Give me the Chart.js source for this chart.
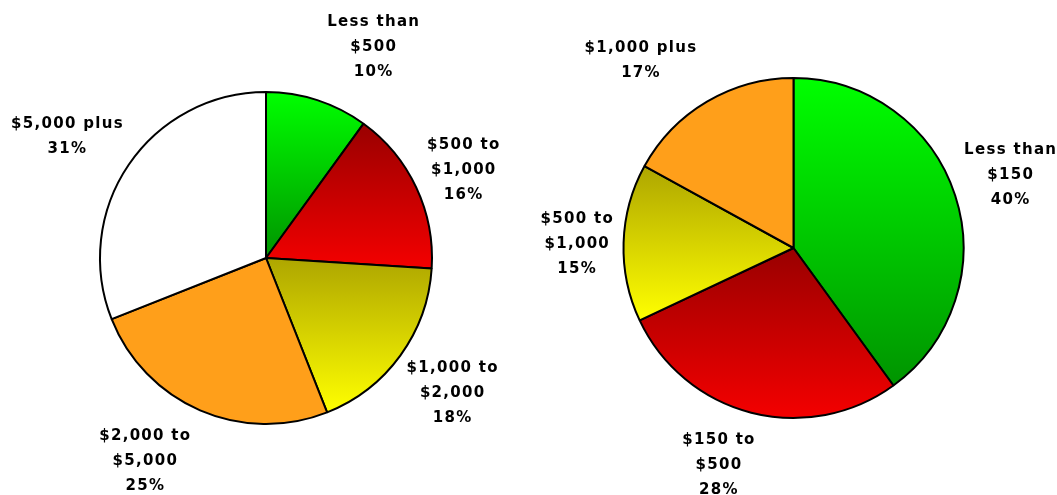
<!DOCTYPE html>
<html>
<head>
<meta charset="utf-8">
<script src="https://cdn.jsdelivr.net/npm/chart.js@4/dist/chart.umd.min.js"></script>
<style>
  html, body { margin: 0; padding: 0; background: #fff; }
  #wrap { position: relative; width: 1057px; height: 495px; }
  .box { position: absolute; top: 0; height: 495px; }
  #boxLeft { left: 0; width: 530px; }
  #boxRight { left: 530px; width: 527px; }
</style>
</head>
<body>
<div id="wrap">
  <div class="box" id="boxLeft"><canvas id="pieLeft"></canvas></div>
  <div class="box" id="boxRight"><canvas id="pieRight"></canvas></div>
</div>
<script>
// Datos del gráfico izquierdo
const categoriasIzq = [
  ['Less than', '$500'],
  ['$500 to', '$1,000'],
  ['$1,000 to', '$2,000'],
  ['$2,000 to', '$5,000'],
  ['$5,000 plus']
];
const valoresIzq = [10, 16, 18, 25, 31];

// Datos del gráfico derecho
const categoriasDer = [
  ['Less than', '$150'],
  ['$150 to', '$500'],
  ['$500 to', '$1,000'],
  ['$1,000 plus']
];
const valoresDer = [40, 28, 15, 17];

// Colores: [arriba, abajo] para degradados verticales
const colores = {
  verde: ['#00ff00', '#009400'],
  rojo: ['#990000', '#f40000'],
  amarillo: ['#aea600', '#ffff00'],
  naranja: ['#ff9f1a', '#ff9f1a'],
  blanco: ['#ffffff', '#ffffff']
};
const coloresIzq = [colores.verde, colores.rojo, colores.amarillo, colores.naranja, colores.blanco];
const coloresDer = [colores.verde, colores.rojo, colores.amarillo, colores.naranja];

// Ajustes finos de las etiquetas (dx, dy)
const ajusteIzq = [[36, 8], [-11, 10], [0, 0], [-30, -8], [-9, 8]];
const ajusteDer = [[-6, -1], [-17, -10], [17, 3], [-34, 14]];

Chart.defaults.font.family = '"DejaVu Sans", sans-serif';

function extensionVertical(arc) {
  const { x, y, startAngle, endAngle, outerRadius } = arc.getProps(['x', 'y', 'startAngle', 'endAngle', 'outerRadius']);
  let ys = [y, y + outerRadius * Math.sin(startAngle), y + outerRadius * Math.sin(endAngle)];
  const TAU = Math.PI * 2;
  [-Math.PI / 2, Math.PI / 2].forEach(a => {
    for (let k = -2; k <= 2; k++) {
      const t = a + k * TAU;
      if (t > startAngle && t < endAngle) ys.push(y + outerRadius * Math.sin(t));
    }
  });
  return [Math.min(...ys), Math.max(...ys)];
}

const degradadoPlugin = {
  id: 'degradado',
  beforeDatasetsDraw(chart) {
    const ctx = chart.ctx;
    const meta = chart.getDatasetMeta(0);
    const pares = chart.options.plugins.degradado.colores;
    meta.data.forEach((arc, i) => {
      const [y0, y1] = extensionVertical(arc);
      const g = ctx.createLinearGradient(0, y0, 0, y1 > y0 ? y1 : y0 + 1);
      g.addColorStop(0, pares[i][0]);
      g.addColorStop(1, pares[i][1]);
      arc.options.backgroundColor = g;
    });
  }
};

const etiquetasPlugin = {
  id: 'etiquetas',
  afterDatasetsDraw(chart) {
    const ctx = chart.ctx;
    const meta = chart.getDatasetMeta(0);
    const opts = chart.options.plugins.etiquetas;
    const datos = chart.data.datasets[0].data;
    const espaciado = 1.3;
    const alto = 25;
    ctx.save();
    ctx.font = 'bold 15px "DejaVu Sans", sans-serif';
    ctx.fillStyle = '#000';
    ctx.textAlign = 'center';
    ctx.textBaseline = 'middle';
    if ('letterSpacing' in ctx) ctx.letterSpacing = espaciado + 'px';
    meta.data.forEach((arc, i) => {
      const { x, y, startAngle, endAngle, outerRadius } = arc.getProps(['x', 'y', 'startAngle', 'endAngle', 'outerRadius']);
      const medio = (startAngle + endAngle) / 2;
      const d = outerRadius + opts.distancia;
      const cx = x + d * Math.cos(medio) + opts.ajuste[i][0];
      const cy = y + d * Math.sin(medio) + opts.ajuste[i][1];
      const lineas = [].concat(chart.data.labels[i], datos[i] + '%');
      const y0 = cy - (lineas.length - 1) * alto / 2;
      lineas.forEach((t, j) => {
        ctx.fillText(t, cx + espaciado / 2, y0 + j * alto);
      });
    });
    ctx.restore();
  }
};

function crearPie(id, categorias, valores, pares, ajuste, radio, padding) {
  const ctx = document.getElementById(id).getContext('2d');
  return new Chart(ctx, {
    type: 'pie',
    data: {
      labels: categorias,
      datasets: [{
        data: valores,
        backgroundColor: pares.map(p => p[1]),
        borderColor: '#000000',
        borderWidth: 2,
        radius: radio
      }]
    },
    options: {
      responsive: true,
      maintainAspectRatio: false,
      animation: false,
      layout: { padding: padding },
      plugins: {
        legend: { display: false },
        tooltip: { enabled: false },
        degradado: { colores: pares },
        etiquetas: { ajuste: ajuste, distancia: 64 }
      }
    },
    plugins: [degradadoPlugin, etiquetasPlugin]
  });
}

window.pieIzq = crearPie('pieLeft', categoriasIzq, valoresIzq, coloresIzq, ajusteIzq, 166,
  { left: 2, right: 0, top: 21, bottom: 0 });
window.pieDer = crearPie('pieRight', categoriasDer, valoresDer, coloresDer, ajusteDer, 170,
  { left: 0, right: 0, top: 1, bottom: 0 });
</script>
</body>
</html>
